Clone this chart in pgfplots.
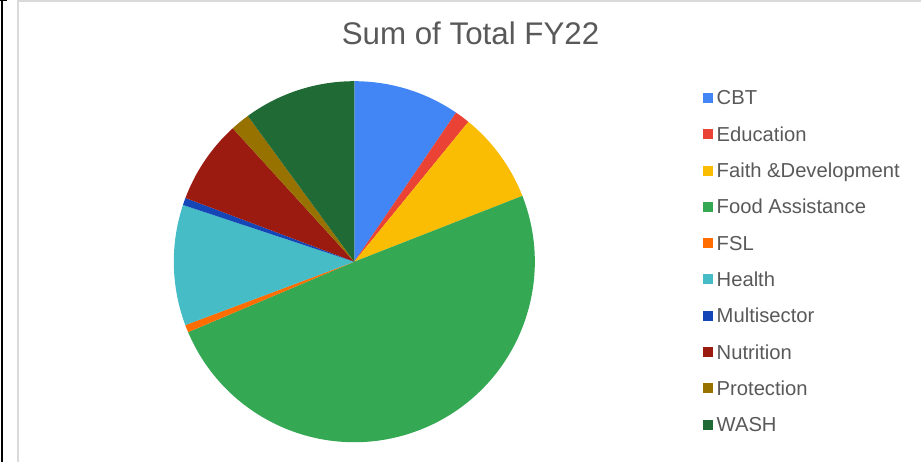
\documentclass[border=0pt]{standalone}
\usepackage{pgfplots}
\usepackage{pgfplotstable}
\pgfplotsset{compat=1.18}
\usepackage{fontspec}
\setmainfont{Liberation Sans}
\definecolor{cCBT}{HTML}{4285F4}
\definecolor{cEdu}{HTML}{EA4335}
\definecolor{cFaith}{HTML}{FBBC04}
\definecolor{cFood}{HTML}{34A853}
\definecolor{cFSL}{HTML}{FF6D01}
\definecolor{cHealth}{HTML}{46BDC6}
\definecolor{cMulti}{HTML}{1446B8}
\definecolor{cNutr}{HTML}{9B1B11}
\definecolor{cProt}{HTML}{977200}
\definecolor{cWASH}{HTML}{1F6A35}
\definecolor{txtgray}{HTML}{595959}
\definecolor{framegray}{HTML}{DADADA}
\pgfplotstableread[col sep=comma]{
name,value,color
CBT,9.53,cCBT
Education,1.36,cEdu
Faith \&Development,8.17,cFaith
Food Assistance,49.56,cFood
FSL,0.67,cFSL
Health,10.80,cHealth
Multisector,0.65,cMulti
Nutrition,7.50,cNutr
Protection,1.72,cProt
WASH,10.05,cWASH
}\piedata
\begin{document}
\begin{tikzpicture}
\begin{axis}[
  width=921pt, height=462pt, scale only axis,
  xmin=0, xmax=921, ymin=0, ymax=462,
  hide axis, clip=false,
]
% bounding box and frame
\path (axis cs:0,0) rectangle (axis cs:921,462);
\fill[framegray] (axis cs:17,0) rectangle (axis cs:19,461);
\fill[framegray] (axis cs:17,460) rectangle (axis cs:921,462);
\fill[black] (axis cs:1.2,0) rectangle (axis cs:3.2,462);
\fill[black] (axis cs:0,461) rectangle (axis cs:7,462);
% title
\node[anchor=base, text=txtgray, font=\fontsize{31.3}{36}\selectfont, inner sep=0pt] at (axis cs:470.5,417) {Sum of Total FY22};
% pie
\pgfplotstablegetrowsof{\piedata}
\pgfmathtruncatemacro\N{\pgfplotsretval-1}
\def\cum{0}
\pgfplotsforeachungrouped \i in {0,...,\N}{%
  \pgfplotstablegetelem{\i}{value}\of\piedata \let\v\pgfplotsretval
  \pgfplotstablegetelem{\i}{color}\of\piedata \let\c\pgfplotsretval
  \pgfplotstablegetelem{\i}{name}\of\piedata \let\nm\pgfplotsretval
  \pgfmathsetmacro\a{90-3.6*\cum}%
  \pgfmathsetmacro\b{90-3.6*(\cum+\v)}%
  \pgfmathsetmacro\xa{354.3+180.5*cos(\a)}%
  \pgfmathsetmacro\ya{200.3+180.5*sin(\a)}%
  \pgfmathsetmacro\cum{\cum+\v}%
  \pgfmathsetmacro\ly{357-36.3*\i}%
  \pgfmathsetmacro\sqb{\ly+2}%
  \pgfmathsetmacro\sqt{\ly+12}%
  \edef\temp{%
    \noexpand\fill[\c] (axis cs:354.3,200.3) -- (axis cs:\xa,\ya) arc[start angle=\a, end angle=\b, radius=180.5pt] -- cycle;
    \noexpand\fill[\c] (axis cs:703,\sqb) rectangle (axis cs:713,\sqt);
  }\temp
  \edef\tempb{\noexpand\node[anchor=base west, inner sep=0pt, text=txtgray, font=\noexpand\fontsize{20.2}{24}\noexpand\selectfont] at (axis cs:716.5,\ly) {\expandafter\unexpanded\expandafter{\nm}};}\tempb
}
\end{axis}
\end{tikzpicture}
\end{document}
